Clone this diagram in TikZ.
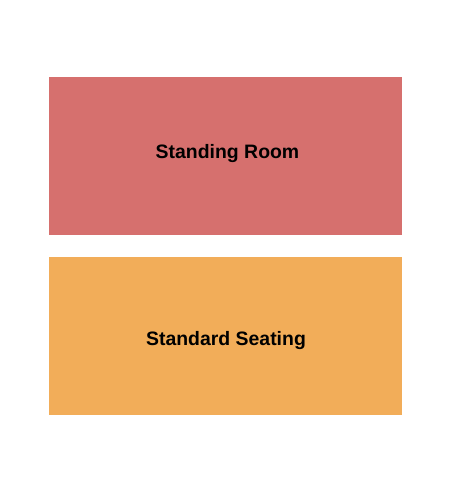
\documentclass[tikz,border=0pt]{standalone}
\usepackage{fontspec}
\setmainfont{Liberation Sans}
\definecolor{standred}{HTML}{D6706E}
\definecolor{seatorange}{HTML}{F2AD59}
\begin{document}
\begin{tikzpicture}[x=1bp,y=-1bp,
  label/.style={font=\fontsize{19.5}{23}\selectfont\bfseries, text=black, inner sep=0pt, anchor=base}]
\useasboundingbox[fill=white] (0,0) rectangle (450,500);
\fill[standred] (49,77) rectangle (402,235);
\fill[seatorange] (49,257) rectangle (402,415);
\node[label] (standing) at (227.5,159) {Standing Room};
\node[label] (seating) at (226,345) {Standard Seating};
\end{tikzpicture}
\end{document}
